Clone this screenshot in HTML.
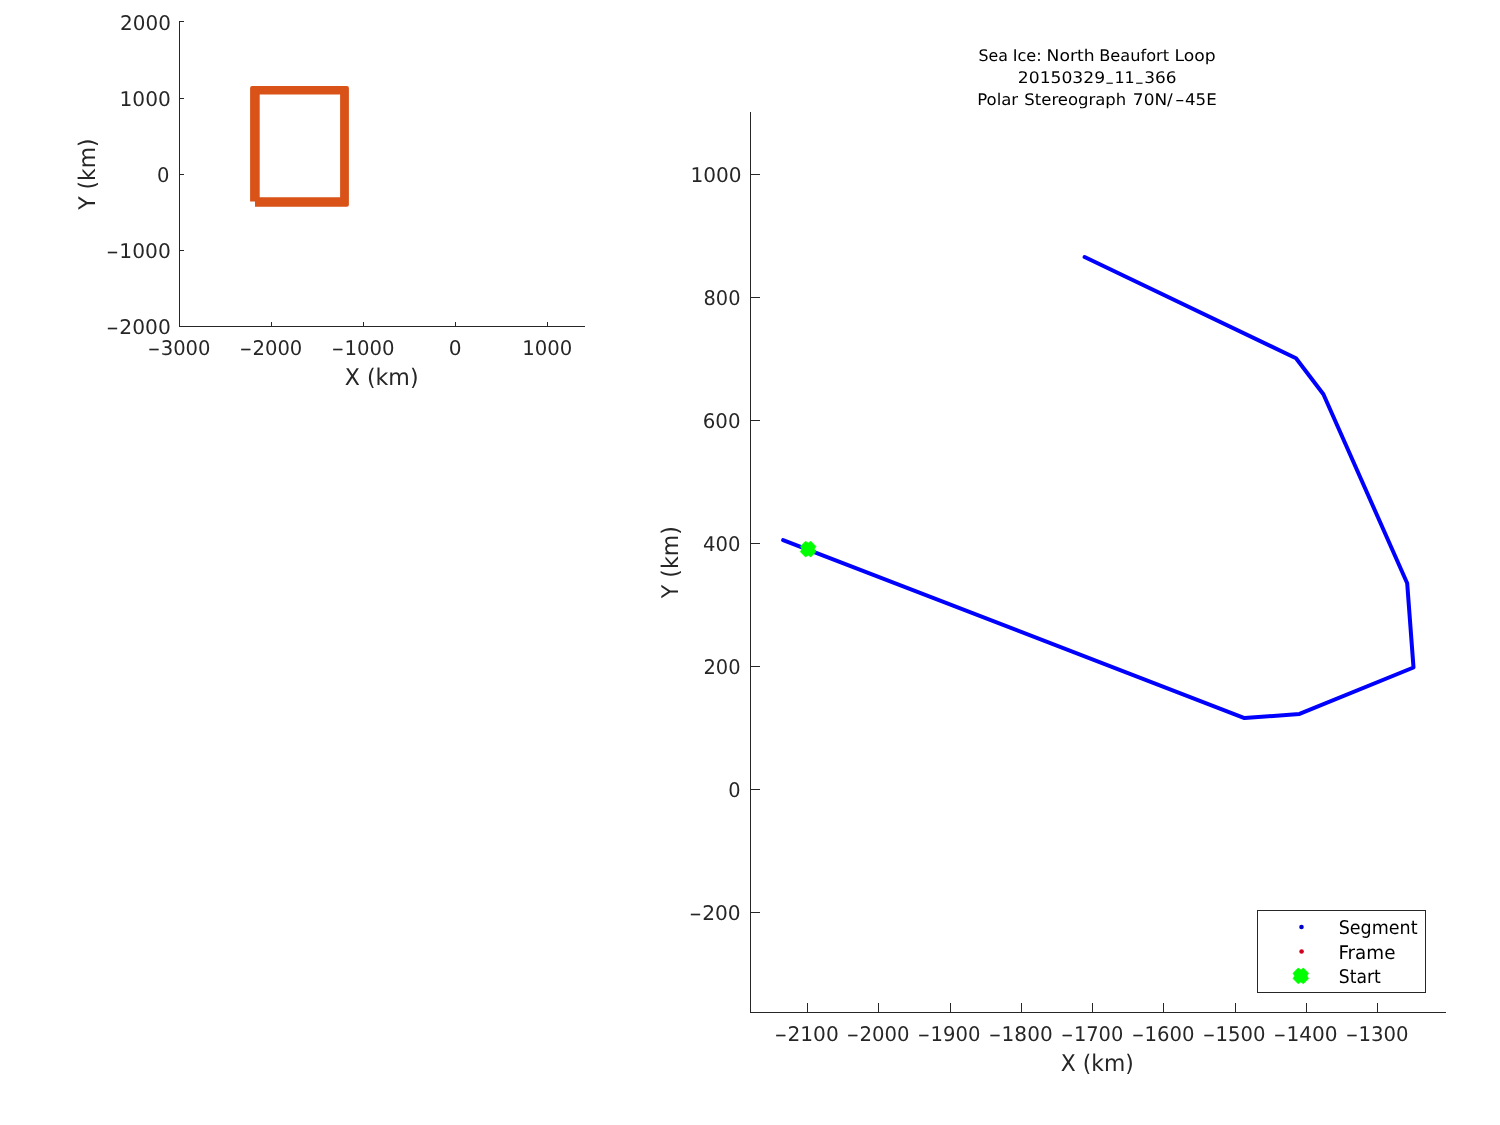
<!DOCTYPE html>
<html><head><meta charset="utf-8"><title>Sea Ice: North Beaufort Loop</title>
<style>html,body{margin:0;padding:0;background:#fff;width:1500px;height:1125px;overflow:hidden}svg{display:block;will-change:transform}</style>
</head><body>
<svg width="1500" height="1125" viewBox="0 0 1500 1125" text-rendering="geometricPrecision">
<rect x="0" y="0" width="1500" height="1125" fill="#fff"/>
<path d="M179.5,21 V326.5 M179,326.5 H585" fill="none" stroke="#262626" stroke-width="1"/>
<path d="M271.5,327 V322 M363.5,327 V322 M455.5,327 V322 M547.5,327 V322 M179,21.5 H184 M179,98.5 H184 M179,174.5 H184 M179,250.5 H184 M179,326.5 H184" fill="none" stroke="#262626" stroke-width="1"/>
<g font-family="DejaVu Sans, sans-serif" font-size="20.2" fill="#262626"><text x="147.98" y="354.9"><tspan font-size="14.3" dy="-1.07" stroke="#262626" stroke-width="0.4">−</tspan><tspan dx="0.75" dy="1.07" textLength="49.82" lengthAdjust="spacingAndGlyphs">3000</tspan></text><text x="239.78" y="354.9"><tspan font-size="14.3" dy="-1.07" stroke="#262626" stroke-width="0.4">−</tspan><tspan dx="0.75" dy="1.07" textLength="49.82" lengthAdjust="spacingAndGlyphs">2000</tspan></text><text x="331.68" y="354.9"><tspan font-size="14.3" dy="-1.07" stroke="#262626" stroke-width="0.4">−</tspan><tspan dx="0.75" dy="1.07" textLength="50.12" lengthAdjust="spacingAndGlyphs">1000</tspan></text><text x="448.74" y="354.9" textLength="12.83" lengthAdjust="spacingAndGlyphs">0</text><text x="522.15" y="354.9" textLength="50.1" lengthAdjust="spacingAndGlyphs">1000</text><text x="120.05" y="29.8" textLength="50.81" lengthAdjust="spacingAndGlyphs">2000</text><text x="119.5" y="105.9" textLength="51.27" lengthAdjust="spacingAndGlyphs">1000</text><text x="156.98" y="181.7" textLength="12.46" lengthAdjust="spacingAndGlyphs">0</text><text x="106.58" y="257.9"><tspan font-size="14.3" dy="-1.07" stroke="#262626" stroke-width="0.4">−</tspan><tspan dx="0.75" dy="1.07" textLength="51.45" lengthAdjust="spacingAndGlyphs">1000</tspan></text><text x="106.58" y="333.7"><tspan font-size="14.3" dy="-1.07" stroke="#262626" stroke-width="0.4">−</tspan><tspan dx="0.75" dy="1.07" textLength="51.45" lengthAdjust="spacingAndGlyphs">2000</tspan></text><text x="774.68" y="1040.7"><tspan font-size="14.3" dy="-1.07" stroke="#262626" stroke-width="0.4">−</tspan><tspan dx="0.75" dy="1.07" textLength="51.35" lengthAdjust="spacingAndGlyphs">2100</tspan></text><text x="846.68" y="1040.7"><tspan font-size="14.3" dy="-1.07" stroke="#262626" stroke-width="0.4">−</tspan><tspan dx="0.75" dy="1.07" textLength="50.02" lengthAdjust="spacingAndGlyphs">2000</tspan></text><text x="917.78" y="1040.7"><tspan font-size="14.3" dy="-1.07" stroke="#262626" stroke-width="0.4">−</tspan><tspan dx="0.75" dy="1.07" textLength="49.92" lengthAdjust="spacingAndGlyphs">1900</tspan></text><text x="988.88" y="1040.7"><tspan font-size="14.3" dy="-1.07" stroke="#262626" stroke-width="0.4">−</tspan><tspan dx="0.75" dy="1.07" textLength="51.05" lengthAdjust="spacingAndGlyphs">1800</tspan></text><text x="1061.18" y="1040.7"><tspan font-size="14.3" dy="-1.07" stroke="#262626" stroke-width="0.4">−</tspan><tspan dx="0.75" dy="1.07" textLength="49.41" lengthAdjust="spacingAndGlyphs">1700</tspan></text><text x="1131.88" y="1040.7"><tspan font-size="14.3" dy="-1.07" stroke="#262626" stroke-width="0.4">−</tspan><tspan dx="0.75" dy="1.07" textLength="50.02" lengthAdjust="spacingAndGlyphs">1600</tspan></text><text x="1202.88" y="1040.7"><tspan font-size="14.3" dy="-1.07" stroke="#262626" stroke-width="0.4">−</tspan><tspan dx="0.75" dy="1.07" textLength="50.02" lengthAdjust="spacingAndGlyphs">1500</tspan></text><text x="1273.68" y="1040.7"><tspan font-size="14.3" dy="-1.07" stroke="#262626" stroke-width="0.4">−</tspan><tspan dx="0.75" dy="1.07" textLength="51.25" lengthAdjust="spacingAndGlyphs">1400</tspan></text><text x="1345.88" y="1040.7"><tspan font-size="14.3" dy="-1.07" stroke="#262626" stroke-width="0.4">−</tspan><tspan dx="0.75" dy="1.07" textLength="50.02" lengthAdjust="spacingAndGlyphs">1300</tspan></text><text x="690.5" y="181.8" textLength="51.17" lengthAdjust="spacingAndGlyphs">1000</text><text x="703.54" y="304.6" textLength="36.99" lengthAdjust="spacingAndGlyphs">800</text><text x="702.76" y="427.8" textLength="37.79" lengthAdjust="spacingAndGlyphs">600</text><text x="703.08" y="550.7" textLength="37.46" lengthAdjust="spacingAndGlyphs">400</text><text x="703.38" y="673.7" textLength="37.15" lengthAdjust="spacingAndGlyphs">200</text><text x="728.19" y="796.7" textLength="12.34" lengthAdjust="spacingAndGlyphs">0</text><text x="689.43" y="919.6"><tspan font-size="14.3" dy="-1.07" stroke="#262626" stroke-width="0.4">−</tspan><tspan dx="0.75" dy="1.07" textLength="38.5" lengthAdjust="spacingAndGlyphs">200</tspan></text></g>
<path fill="#D95319" fill-rule="evenodd" d="M252.1,85.9 H346.9 Q348.9,85.9 348.9,87.9 V204.7 Q348.9,206.7 346.9,206.7 H255 V201.6 H250.1 V87.9 Q250.1,85.9 252.1,85.9 Z M259.7,94.5 V197.2 H340.1 V94.5 Z"/>
<path d="M750.5,112 V1012.5 M750,1012.5 H1446" fill="none" stroke="#262626" stroke-width="1"/>
<path d="M807.5,1013 V1003 M878.5,1013 V1003 M950.5,1013 V1003 M1021.5,1013 V1003 M1092.5,1013 V1003 M1163.5,1013 V1003 M1235.5,1013 V1003 M1306.5,1013 V1003 M1377.5,1013 V1003 M750,174.5 H760 M750,297.5 H760 M750,420.5 H760 M750,543.5 H760 M750,666.5 H760 M750,789.5 H760 M750,912.5 H760" fill="none" stroke="#262626" stroke-width="1"/>
<g font-family="DejaVu Sans, sans-serif"><text x="1060.86" y="1070.9" font-size="22.9" textLength="72.94" lengthAdjust="spacingAndGlyphs" fill="#262626">X (km)</text><text x="344.75" y="384.9" font-size="22.9" textLength="73.76" lengthAdjust="spacingAndGlyphs" fill="#262626">X (km)</text><text transform="translate(677.7,598.16) rotate(-90)" font-size="22.9" textLength="71.97" lengthAdjust="spacingAndGlyphs" fill="#262626">Y (km)</text><text transform="translate(94.66,209.86) rotate(-90)" font-size="22.9" textLength="71.36" lengthAdjust="spacingAndGlyphs" fill="#262626">Y (km)</text></g>
<g font-family="DejaVu Sans, sans-serif"><text y="60.9" font-size="16" fill="#000"><tspan x="978.61" textLength="29.37" lengthAdjust="spacingAndGlyphs">Sea</tspan> <tspan x="1012.69" textLength="28.96" lengthAdjust="spacingAndGlyphs">Ice:</tspan> <tspan x="1046.59" textLength="47.93" lengthAdjust="spacingAndGlyphs">North</tspan> <tspan x="1099.28" textLength="69.74" lengthAdjust="spacingAndGlyphs">Beaufort</tspan> <tspan x="1174.64" textLength="41.06" lengthAdjust="spacingAndGlyphs">Loop</tspan></text><text y="82.5" font-size="16" fill="#000"><tspan x="1017.83" y="82.5" textLength="87.27" lengthAdjust="spacingAndGlyphs">20150329</tspan><tspan x="1106.49" y="80" textLength="6.21" lengthAdjust="spacingAndGlyphs">_</tspan><tspan x="1114.46" y="82.5" textLength="20.26" lengthAdjust="spacingAndGlyphs">11</tspan><tspan x="1136.19" y="80" textLength="6.21" lengthAdjust="spacingAndGlyphs">_</tspan><tspan x="1144.34" y="82.5" textLength="32.24" lengthAdjust="spacingAndGlyphs">366</tspan></text><text y="104.6" font-size="16" fill="#000"><tspan x="977.2" textLength="40.92" lengthAdjust="spacingAndGlyphs">Polar</tspan> <tspan x="1024.37" textLength="101.8" lengthAdjust="spacingAndGlyphs">Stereograph</tspan> <tspan x="1132.88" textLength="39.91" lengthAdjust="spacingAndGlyphs">70N/</tspan><tspan x="1175.01" textLength="9.58" lengthAdjust="spacingAndGlyphs">-</tspan><tspan x="1185.02" textLength="31.67" lengthAdjust="spacingAndGlyphs">45E</tspan></text></g>
<path d="M783.1,540.1 L1244.5,718.1 L1299.5,713.9 L1413.5,667.5 L1407.2,583.3 L1323.4,394.2 L1296,358.3 L1084.6,257" fill="none" stroke="#0000ff" stroke-width="4" stroke-linejoin="round" stroke-linecap="round"/>
<path d="M805.45,541.30 L808.15,542.90 L810.85,541.30 L815.95,546.40 L814.35,549.10 L815.95,551.80 L810.85,556.90 L808.15,555.30 L805.45,556.90 L800.35,551.80 L801.95,549.10 L800.35,546.40Z" fill="#00ff00" stroke="#00ff00" stroke-width="0.6" stroke-linejoin="round"/>
<rect x="1257.5" y="910.5" width="168" height="82" fill="#fff" stroke="#262626" stroke-width="1"/>
<circle cx="1301.5" cy="927" r="2.3" fill="#0000cc"/>
<circle cx="1301.6" cy="951.5" r="2.3" fill="#d00020"/>
<path d="M1298.10,968.10 L1300.80,969.70 L1303.50,968.10 L1308.60,973.20 L1307.00,975.90 L1308.60,978.60 L1303.50,983.70 L1300.80,982.10 L1298.10,983.70 L1293.00,978.60 L1294.60,975.90 L1293.00,973.20Z" fill="#00ff00" stroke="#00ff00" stroke-width="0.6" stroke-linejoin="round"/>
<g font-family="DejaVu Sans, sans-serif"><text x="1338.71" y="934.1" font-size="18.8" textLength="78.79" lengthAdjust="spacingAndGlyphs" fill="#000">Segment</text><text x="1338.38" y="958.9" font-size="18.8" textLength="57.08" lengthAdjust="spacingAndGlyphs" fill="#000">Frame</text><text x="1338.83" y="982.7" font-size="18.8" textLength="41.97" lengthAdjust="spacingAndGlyphs" fill="#000">Start</text></g>
</svg>
</body></html>
